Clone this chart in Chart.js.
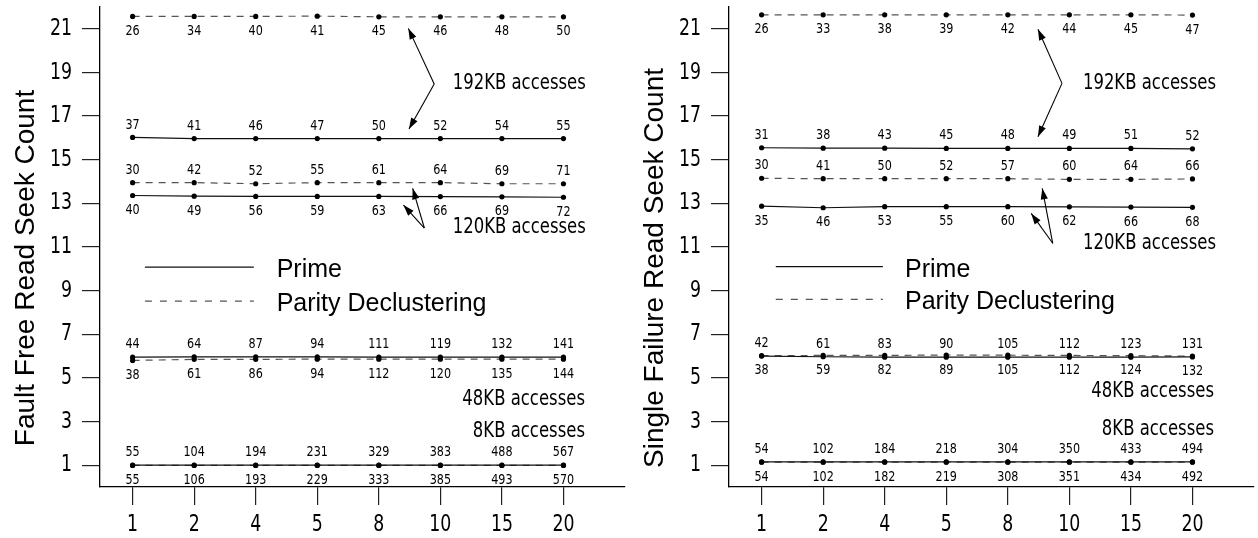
<!DOCTYPE html>
<html>
<head>
<meta charset="utf-8">
<script src="https://cdn.jsdelivr.net/npm/chart.js@4/dist/chart.umd.min.js"></script>
<style>
  html, body { margin: 0; padding: 0; background: #fff; }
  #wrap { position: relative; width: 1258px; height: 538px; }
  canvas { position: absolute; top: 0; }
  #ff { left: 0; }
  #sf { left: 629px; }
</style>
</head>
<body>
<div id="wrap">
  <canvas id="ff" width="629" height="538"></canvas>
  <canvas id="sf" width="629" height="538"></canvas>
</div>
<script>
// Number of independent stripes (x categories) and y tick values
const xLabels = ['1', '2', '4', '5', '8', '10', '15', '20'];
const yTicks = [1, 3, 5, 7, 9, 11, 13, 15, 17, 19, 21];

// ---- Fault-free read seek counts ----
const ffPrime8   = [1.00, 1.00, 1.00, 1.00, 1.00, 1.00, 1.00, 1.00];
const ffPD8      = [0.99, 0.99, 0.99, 0.99, 0.99, 0.99, 0.99, 0.99];
const ffPrime48  = [5.95, 5.96, 5.96, 5.96, 5.95, 5.95, 5.95, 5.95];
const ffPD48     = [5.80, 5.85, 5.85, 5.86, 5.86, 5.86, 5.86, 5.86];
const ffPrime120 = [13.36, 13.33, 13.32, 13.32, 13.32, 13.31, 13.30, 13.28];
const ffPD120    = [13.95, 13.95, 13.90, 13.95, 13.95, 13.95, 13.90, 13.90];
const ffPrime192 = [16.02, 15.97, 15.97, 15.97, 15.97, 15.97, 15.97, 15.97];
const ffPD192    = [21.57, 21.57, 21.57, 21.58, 21.55, 21.55, 21.55, 21.55];

// numbers printed beside the fault-free points
const ffPrime8Notes   = [55, 104, 194, 231, 329, 383, 488, 567];
const ffPD8Notes      = [55, 106, 193, 229, 333, 385, 493, 570];
const ffPrime48Notes  = [44, 64, 87, 94, 111, 119, 132, 141];
const ffPD48Notes     = [38, 61, 86, 94, 112, 120, 135, 144];
const ffPrime120Notes = [40, 49, 56, 59, 63, 66, 69, 72];
const ffPD120Notes    = [30, 42, 52, 55, 61, 64, 69, 71];
const ffPrime192Notes = [37, 41, 46, 47, 50, 52, 54, 55];
const ffPD192Notes    = [26, 34, 40, 41, 45, 46, 48, 50];

// ---- Single-failure read seek counts ----
const sfPrime8   = [1.15, 1.15, 1.15, 1.15, 1.15, 1.15, 1.15, 1.15];
const sfPD8      = [1.14, 1.14, 1.14, 1.14, 1.14, 1.14, 1.14, 1.14];
const sfPrime48  = [6.00, 5.97, 5.95, 5.95, 5.95, 5.95, 5.95, 5.96];
const sfPD48     = [6.02, 6.03, 6.03, 6.05, 6.04, 6.03, 6.02, 6.00];
const sfPrime120 = [12.87, 12.80, 12.85, 12.85, 12.85, 12.84, 12.83, 12.82];
const sfPD120    = [14.15, 14.13, 14.13, 14.13, 14.13, 14.10, 14.10, 14.12];
const sfPrime192 = [15.55, 15.53, 15.53, 15.52, 15.52, 15.52, 15.52, 15.50];
const sfPD192    = [21.64, 21.64, 21.64, 21.64, 21.64, 21.64, 21.64, 21.63];

const sfPrime8Notes   = [54, 102, 184, 218, 304, 350, 433, 494];
const sfPD8Notes      = [54, 102, 182, 219, 308, 351, 434, 492];
const sfPrime48Notes  = [42, 61, 83, 90, 105, 112, 123, 131];
const sfPD48Notes     = [38, 59, 82, 89, 105, 112, 124, 132];
const sfPrime120Notes = [35, 46, 53, 55, 60, 62, 66, 68];
const sfPD120Notes    = [30, 41, 50, 52, 57, 60, 64, 66];
const sfPrime192Notes = [31, 38, 43, 45, 48, 49, 51, 52];
const sfPD192Notes    = [26, 33, 38, 39, 42, 44, 45, 47];

const NARROW = '"DejaVu Sans Condensed", "DejaVu Sans", sans-serif';
const SANS = '"Liberation Sans", Arial, "DejaVu Sans", sans-serif';
const PRIME_COLOR = '#111';
const PD_COLOR = '#555';

// Text squeezed horizontally to get a narrow face
function narrowText(ctx, text, x, y, size, squeeze, align) {
  ctx.save();
  ctx.font = size + 'px ' + NARROW;
  ctx.textAlign = align;
  ctx.textBaseline = 'middle';
  ctx.translate(x, y);
  ctx.scale(squeeze, 1);
  ctx.fillText(text, 0, 0);
  ctx.restore();
}

function series(values, notes, side, dashed) {
  return {
    data: values.map((v, i) => ({ x: i, y: v })),
    notes: notes,
    noteSide: side,
    borderColor: dashed ? PD_COLOR : PRIME_COLOR,
    borderWidth: 1.2,
    borderDash: dashed ? [7, 6] : [],
    pointRadius: 2.6,
    pointBackgroundColor: '#000',
    pointBorderWidth: 0,
    fill: false,
    tension: 0
  };
}

// Axis numbers
const axisNumbers = {
  id: 'axisNumbers',
  afterDraw(chart) {
    const ctx = chart.ctx, xs = chart.scales.x, ys = chart.scales.y;
    ctx.fillStyle = '#000';
    yTicks.forEach(v => {
      narrowText(ctx, String(v), chart.chartArea.left - 28, ys.getPixelForValue(v), 23.5, 0.82, 'right');
    });
    xLabels.forEach((lab, i) => {
      narrowText(ctx, lab, xs.getPixelForValue(i), chart.chartArea.bottom + 38, 23.5, 0.82, 'center');
    });
  }
};

// Numbers written above / below each point
const pointNotes = {
  id: 'pointNotes',
  afterDatasetsDraw(chart) {
    const ctx = chart.ctx;
    ctx.fillStyle = '#000';
    chart.data.datasets.forEach((ds, di) => {
      const meta = chart.getDatasetMeta(di);
      meta.data.forEach((pt, i) => {
        const dy = ds.noteSide === 'above' ? -12.5 : 15;
        narrowText(ctx, String(ds.notes[i]), pt.x, pt.y + dy, 13.8, 0.9, 'center');
      });
    });
  }
};

// Access-size captions with their pointer arrows
function arrowHead(ctx, fx, fy, tx, ty) {
  const a = Math.atan2(ty - fy, tx - fx);
  const len = 11, half = 3.6;
  ctx.beginPath();
  ctx.moveTo(tx, ty);
  ctx.lineTo(tx - len * Math.cos(a) + half * Math.sin(a), ty - len * Math.sin(a) - half * Math.cos(a));
  ctx.lineTo(tx - len * Math.cos(a) - half * Math.sin(a), ty - len * Math.sin(a) + half * Math.cos(a));
  ctx.closePath();
  ctx.fill();
}
const captions = {
  id: 'captions',
  afterDraw(chart, args, opts) {
    const ctx = chart.ctx, xs = chart.scales.x, ys = chart.scales.y;
    ctx.save();
    ctx.strokeStyle = '#000';
    ctx.fillStyle = '#000';
    ctx.lineWidth = 1.1;
    (opts.arrows || []).forEach(a => {
      const vx = xs.getPixelForValue(a.from[0]), vy = ys.getPixelForValue(a.from[1]);
      a.to.forEach(t => {
        const tx = xs.getPixelForValue(t[0]), ty = ys.getPixelForValue(t[1]);
        ctx.beginPath();
        ctx.moveTo(vx, vy);
        ctx.lineTo(tx, ty);
        ctx.stroke();
        arrowHead(ctx, vx, vy, tx, ty);
      });
    });
    (opts.texts || []).forEach(t => {
      narrowText(ctx, t.text, xs.getPixelForValue(t.at[0]), ys.getPixelForValue(t.at[1]), 20.6, 0.89, t.align);
    });
    ctx.restore();
  }
};

// Line-style key inside the plot
const styleKey = {
  id: 'styleKey',
  afterDraw(chart, args, opts) {
    const ctx = chart.ctx, xs = chart.scales.x, ys = chart.scales.y;
    const x0 = xs.getPixelForValue(opts.x0), x1 = xs.getPixelForValue(opts.x1);
    const tx = xs.getPixelForValue(opts.textX);
    ctx.save();
    ctx.font = '25px ' + SANS;
    ctx.textAlign = 'left';
    ctx.textBaseline = 'middle';
    ctx.fillStyle = '#000';
    opts.rows.forEach(r => {
      const y = ys.getPixelForValue(r.y);
      ctx.strokeStyle = r.color;
      ctx.lineWidth = 1.3;
      ctx.setLineDash(r.dash);
      ctx.beginPath();
      ctx.moveTo(x0, y);
      ctx.lineTo(x1, y);
      ctx.stroke();
      ctx.setLineDash([]);
      ctx.fillText(r.label, tx, y + 3);
    });
    ctx.restore();
  }
};

// Vertical axis title
const sideTitle = {
  id: 'sideTitle',
  afterDraw(chart, args, opts) {
    const ctx = chart.ctx;
    ctx.save();
    ctx.translate(34, 268);
    ctx.rotate(-Math.PI / 2);
    ctx.font = '28px ' + SANS;
    ctx.fillStyle = '#000';
    ctx.textAlign = 'center';
    ctx.textBaseline = 'alphabetic';
    ctx.fillText(opts.text, 0, 0);
    ctx.restore();
  }
};

function makeChart(id, sets, title, notes, key, rightPad) {
  return new Chart(document.getElementById(id), {
    type: 'line',
    data: { datasets: sets },
    plugins: [pointNotes, captions, styleKey, sideTitle, axisNumbers],
    options: {
      responsive: false,
      animation: false,
      layout: { padding: { top: 7, right: rightPad, left: 0, bottom: 0 } },
      plugins: {
        legend: { display: false },
        tooltip: { enabled: false },
        captions: notes,
        styleKey: key,
        sideTitle: { text: title }
      },
      scales: {
        x: {
          type: 'linear',
          min: -0.53,
          max: 8.0,
          afterBuildTicks: s => { s.ticks = xLabels.map((_, i) => ({ value: i })); },
          afterFit: s => { s.height = 51; s.paddingLeft = 0; s.paddingRight = 0; },
          ticks: { display: false },
          grid: { drawOnChartArea: false, drawTicks: true, tickLength: 18, color: '#222', lineWidth: 1.2 },
          border: { color: '#000', width: 1.3 }
        },
        y: {
          min: 0,
          max: 22,
          afterBuildTicks: s => { s.ticks = yTicks.map(v => ({ value: v })); },
          afterFit: s => { s.width = 100; s.paddingTop = 0; s.paddingBottom = 0; },
          ticks: { display: false },
          grid: { drawOnChartArea: false, drawTicks: true, tickLength: 18, color: '#222', lineWidth: 1.2 },
          border: { color: '#000', width: 1.3 }
        }
      }
    }
  });
}

makeChart('ff', [
  series(ffPrime8, ffPrime8Notes, 'above', false),
  series(ffPD8, ffPD8Notes, 'below', true),
  series(ffPrime48, ffPrime48Notes, 'above', false),
  series(ffPD48, ffPD48Notes, 'below', true),
  series(ffPrime120, ffPrime120Notes, 'below', false),
  series(ffPD120, ffPD120Notes, 'above', true),
  series(ffPrime192, ffPrime192Notes, 'above', false),
  series(ffPD192, ffPD192Notes, 'below', true)
], 'Fault Free Read Seek Count', {
  arrows: [
    { from: [4.90, 18.47], to: [[4.48, 21.02], [4.49, 16.41]] },
    { from: [4.74, 11.87], to: [[4.40, 12.92], [4.55, 13.69]] }
  ],
  texts: [
    { text: '192KB accesses', at: [5.20, 18.47], align: 'left' },
    { text: '120KB accesses', at: [5.20, 11.87], align: 'left' },
    { text: '48KB accesses', at: [7.35, 3.99], align: 'right' },
    { text: '8KB accesses', at: [7.35, 2.53], align: 'right' }
  ]
}, {
  x0: 0.2, x1: 1.97, textX: 2.34,
  rows: [
    { y: 10.08, label: 'Prime', dash: [], color: PRIME_COLOR },
    { y: 8.52, label: 'Parity Declustering', dash: [7, 8], color: PD_COLOR }
  ]
}, 1);

makeChart('sf', [
  series(sfPrime8, sfPrime8Notes, 'above', false),
  series(sfPD8, sfPD8Notes, 'below', true),
  series(sfPrime48, sfPrime48Notes, 'above', false),
  series(sfPD48, sfPD48Notes, 'below', true),
  series(sfPrime120, sfPrime120Notes, 'below', false),
  series(sfPD120, sfPD120Notes, 'above', true),
  series(sfPrime192, sfPrime192Notes, 'above', false),
  series(sfPD192, sfPD192Notes, 'below', true)
], 'Single Failure Read Seek Count', {
  arrows: [
    { from: [4.88, 18.50], to: [[4.49, 20.98], [4.49, 16.05]] },
    { from: [4.73, 11.17], to: [[4.38, 12.54], [4.56, 13.69]] }
  ],
  texts: [
    { text: '192KB accesses', at: [5.22, 18.50], align: 'left' },
    { text: '120KB accesses', at: [5.22, 11.17], align: 'left' },
    { text: '48KB accesses', at: [7.35, 4.37], align: 'right' },
    { text: '8KB accesses', at: [7.35, 2.61], align: 'right' }
  ]
}, {
  x0: 0.23, x1: 1.97, textX: 2.33,
  rows: [
    { y: 10.10, label: 'Prime', dash: [], color: PRIME_COLOR },
    { y: 8.60, label: 'Parity Declustering', dash: [7, 8], color: PD_COLOR }
  ]
}, 0);
</script>
</body>
</html>
